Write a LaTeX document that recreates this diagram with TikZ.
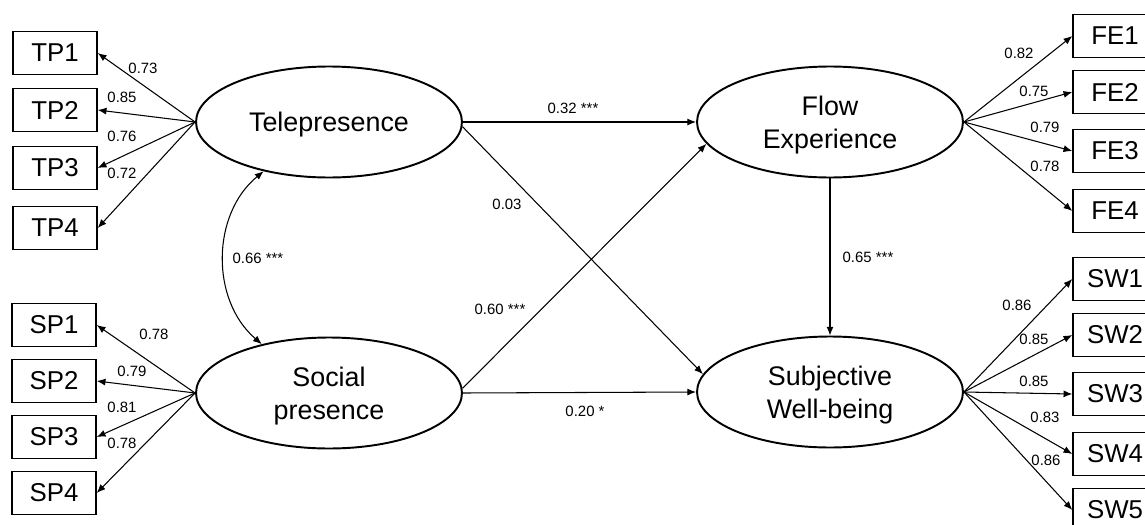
\documentclass[tikz,border=0pt]{standalone}
\usepackage{fontspec}
\setmainfont{Liberation Sans}
\usetikzlibrary{shapes.geometric, arrows.meta}

\begin{document}
\begin{tikzpicture}[x=0.02cm, y=-0.02cm,
  ind/.style={draw, line width=0.8pt, minimum width=1.68cm, minimum height=0.86cm, inner sep=0pt, font=\fontsize{14.7}{17}\selectfont},
  lat/.style={draw, ellipse, line width=1.1pt, minimum width=5.32cm, minimum height=2.22cm, inner sep=0pt, text depth=0pt, align=center, font=\fontsize{15.3}{18.7}\selectfont},
  reg/.style={-{Latex[length=5pt,width=4pt]}, line width=0.6pt},
  lbl/.style={inner sep=0pt, font=\fontsize{8.5}{10}\selectfont}]
\useasboundingbox (0,0) rectangle (1145,524);
\clip (0,0) rectangle (1145,524);

\node[lat] (tele) at (329,122) {Telepresence};
\node[lat] (social) at (329,393) {Social\\presence};
\node[lat] (flow) at (830,122) {Flow\\Experience};
\node[lat] (swb) at (830,392) {Subjective\\Well-being};

\node[ind] (tp1) at (55,53) {TP1};
\node[ind] (tp2) at (55,110) {TP2};
\node[ind] (tp3) at (55,168) {TP3};
\node[ind] (tp4) at (55,228) {TP4};

\node[ind] (sp1) at (54,325) {SP1};
\node[ind] (sp2) at (54,381) {SP2};
\node[ind] (sp3) at (54,437) {SP3};
\node[ind] (sp4) at (54,493) {SP4};

\node[ind] (fe1) at (1115,36) {FE1};
\node[ind] (fe2) at (1115,92) {FE2};
\node[ind] (fe3) at (1115,151) {FE3};
\node[ind] (fe4) at (1115,211) {FE4};

\node[ind] (sw1) at (1115,279) {SW1};
\node[ind] (sw2) at (1115,335) {SW2};
\node[ind] (sw3) at (1115,394) {SW3};
\node[ind] (sw4) at (1115,454) {SW4};
\node[ind] (sw5) at (1115,510) {SW5};

\draw[reg] (tele.west) -- (tp1.east);
\draw[reg] (tele.west) -- (tp2.east);
\draw[reg] (tele.west) -- (tp3.east);
\draw[reg] (tele.west) -- (tp4.east);

\draw[reg] (social.west) -- (sp1.east);
\draw[reg] (social.west) -- (sp2.east);
\draw[reg] (social.west) -- (sp3.east);
\draw[reg] (social.west) -- (sp4.east);

\draw[reg] (flow.east) -- (fe1.west);
\draw[reg] (flow.east) -- (fe2.west);
\draw[reg] (flow.east) -- (fe3.west);
\draw[reg] (flow.east) -- (fe4.west);

\draw[reg] (swb.east) -- (sw1.west);
\draw[reg] (swb.east) -- (sw2.west);
\draw[reg] (swb.east) -- (sw3.west);
\draw[reg] (swb.east) -- (sw4.west);
\draw[reg] (swb.east) -- (sw5.west);

\draw[reg] (tele.east) -- (flow.west);
\draw[reg] (tele.-2) -- (swb.172);
\draw[reg] (social.2) -- (flow.190);
\draw[reg] (social.east) -- (swb.west);
\draw[reg] (flow.south) -- (swb.north);
\draw[reg, {Latex[length=5pt,width=4pt]}-{Latex[length=5pt,width=4pt]}] (tele.217) to[bend right=50] (social.144);

\node[lbl] at (143,68) {0.73};
\node[lbl] at (122,97) {0.85};
\node[lbl] at (122,136) {0.76};
\node[lbl] at (122,173) {0.72};

\node[lbl] at (154,334) {0.78};
\node[lbl] at (132,371) {0.79};
\node[lbl] at (122,407) {0.81};
\node[lbl] at (122,443) {0.78};

\node[lbl] at (1019,53) {0.82};
\node[lbl] at (1034,91) {0.75};
\node[lbl] at (1045,127) {0.79};
\node[lbl] at (1045,166) {0.78};

\node[lbl] at (1017,305) {0.86};
\node[lbl] at (1034,339) {0.85};
\node[lbl] at (1034,381) {0.85};
\node[lbl] at (1045,417) {0.83};
\node[lbl] at (1046,460) {0.86};

\node[lbl] at (573,108) {0.32 ***};
\node[lbl] at (507,204) {0.03};
\node[lbl] at (500,309) {0.60 ***};
\node[lbl] at (585,411) {0.20 *};
\node[lbl] at (868,257) {0.65 ***};
\node[lbl] at (258,258) {0.66 ***};
\end{tikzpicture}
\end{document}
